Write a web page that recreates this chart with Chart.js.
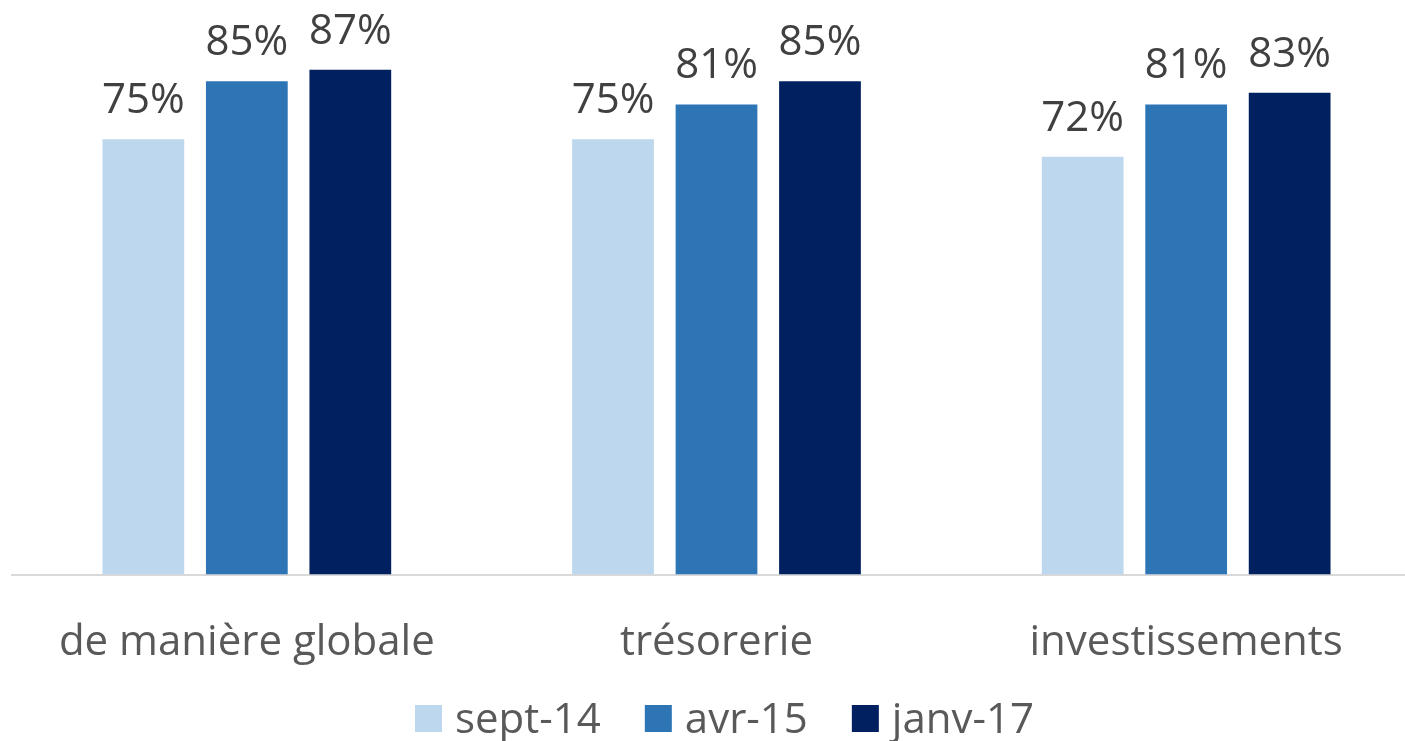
<!DOCTYPE html>
<html>
<head>
<meta charset="utf-8">
<script src="https://cdn.jsdelivr.net/npm/chart.js@4.4.1/dist/chart.umd.min.js"></script>
<style>
  html, body { margin: 0; padding: 0; background: #fff; overflow: hidden; }
  #wrap { width: 1405px; height: 741px; overflow: hidden; }
</style>
</head>
<body>
<div id="wrap"><canvas id="chart" width="1421" height="741"></canvas></div>
<script>
const categories = ["de manière globale", "trésorerie", "investissements"];
const seriesNames = ["sept-14", "avr-15", "janv-17"];
const sept14 = [75, 75, 72];
const avr15 = [85, 81, 81];
const janv17 = [87, 85, 83];
const colors = ["#BDD7EE", "#2E75B6", "#002060"];

const labelFont = "'Open Sans', sans-serif";

// "75%" labels above each bar
const barLabels = {
  id: "barLabels",
  afterDatasetsDraw(chart) {
    const ctx = chart.ctx;
    ctx.save();
    ctx.font = "42px " + labelFont;
    ctx.fillStyle = "#404040";
    ctx.textAlign = "center";
    ctx.textBaseline = "alphabetic";
    chart.data.datasets.forEach((ds, i) => {
      chart.getDatasetMeta(i).data.forEach((bar, j) => {
        ctx.fillText(ds.data[j] + "%", bar.x, bar.y - 26);
      });
    });
    ctx.restore();
  }
};

// legend drawn by hand so the box / text spacing matches
const bottomLegend = {
  id: "bottomLegend",
  afterDraw(chart) {
    const ctx = chart.ctx;
    ctx.save();
    ctx.font = "42px " + labelFont;
    ctx.textBaseline = "alphabetic";
    let x = 415;
    chart.data.datasets.forEach((ds) => {
      ctx.fillStyle = ds.backgroundColor;
      ctx.fillRect(x, 705, 27, 27);
      x += 27 + 13;
      ctx.fillStyle = "#595959";
      ctx.fillText(ds.label, x, 733);
      x += ctx.measureText(ds.label).width + 44;
    });
    ctx.restore();
  }
};

const ctx = document.getElementById("chart").getContext("2d");
new Chart(ctx, {
  type: "bar",
  data: {
    labels: categories,
    datasets: [
      { label: seriesNames[0], data: sept14, backgroundColor: colors[0] },
      { label: seriesNames[1], data: avr15, backgroundColor: colors[1] },
      { label: seriesNames[2], data: janv17, backgroundColor: colors[2] },
    ],
  },
  options: {
    responsive: false,
    animation: false,
    layout: { padding: { left: 12, right: 0, top: 0, bottom: 30 } },
    datasets: {
      bar: { categoryPercentage: 0.661, barPercentage: 0.79 },
    },
    plugins: {
      tooltip: { enabled: false },
      legend: { display: false },
    },
    scales: {
      x: {
        grid: { display: false, drawTicks: false },
        border: { color: "#D9D9D9", width: 2 },
        ticks: {
          color: "#595959",
          padding: 43,
          font: { family: labelFont, size: 42 },
        },
      },
      y: {
        display: false,
        min: 0,
        max: 99,
      },
    },
  },
  plugins: [barLabels, bottomLegend],
});
</script>
</body>
</html>
